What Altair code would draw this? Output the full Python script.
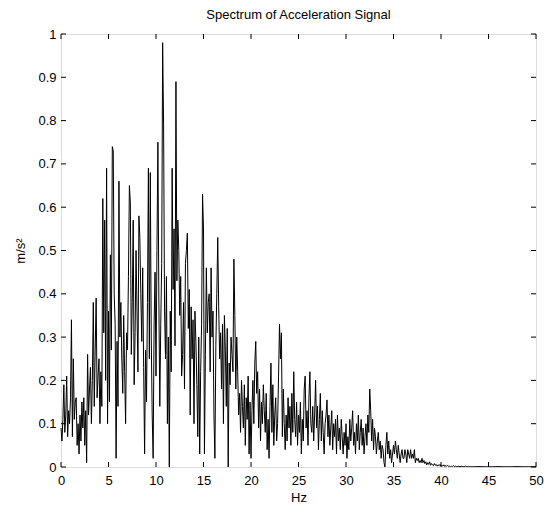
import altair as alt
import numpy as np
import pandas as pd

# Spectrum amplitude (m/s^2), one value every 0.1 Hz
a00 = [0.09, 0.06, 0.11, 0.19, 0.08, 0.12, 0.21, 0.07, 0.13, 0.10]
a01 = [0.16, 0.34, 0.07, 0.25, 0.11, 0.15, 0.16, 0.05, 0.10, 0.03]
a02 = [0.12, 0.06, 0.15, 0.09, 0.16, 0.05, 0.13, 0.01, 0.26, 0.12]
a03 = [0.18, 0.23, 0.10, 0.20, 0.38, 0.14, 0.27, 0.39, 0.16, 0.21]
a04 = [0.25, 0.10, 0.22, 0.14, 0.62, 0.31, 0.57, 0.20, 0.69, 0.10]
a05 = [0.36, 0.15, 0.49, 0.27, 0.74, 0.73, 0.40, 0.33, 0.02, 0.29]
a06 = [0.14, 0.66, 0.30, 0.38, 0.25, 0.17, 0.35, 0.22, 0.10, 0.31]
a07 = [0.27, 0.44, 0.65, 0.61, 0.26, 0.38, 0.57, 0.19, 0.31, 0.50]
a08 = [0.36, 0.22, 0.58, 0.53, 0.40, 0.29, 0.46, 0.23, 0.03, 0.27]
a09 = [0.15, 0.38, 0.69, 0.25, 0.68, 0.30, 0.12, 0.02, 0.33, 0.45]
a10 = [0.21, 0.50, 0.75, 0.39, 0.14, 0.33, 0.47, 0.98, 0.79, 0.36]
a11 = [0.25, 0.44, 0.10, 0.30, 0.00, 0.36, 0.22, 0.69, 0.41, 0.55]
a12 = [0.28, 0.89, 0.43, 0.57, 0.50, 0.35, 0.44, 0.21, 0.26, 0.38]
a13 = [0.18, 0.47, 0.50, 0.54, 0.32, 0.41, 0.12, 0.37, 0.25, 0.34]
a14 = [0.10, 0.36, 0.29, 0.19, 0.07, 0.30, 0.03, 0.22, 0.33, 0.63]
a15 = [0.55, 0.03, 0.26, 0.46, 0.31, 0.38, 0.40, 0.22, 0.46, 0.30]
a16 = [0.36, 0.12, 0.02, 0.28, 0.40, 0.53, 0.37, 0.25, 0.31, 0.18]
a17 = [0.33, 0.10, 0.35, 0.27, 0.14, 0.32, 0.00, 0.24, 0.19, 0.30]
a18 = [0.26, 0.22, 0.48, 0.35, 0.18, 0.30, 0.22, 0.12, 0.17, 0.08]
a19 = [0.20, 0.14, 0.09, 0.19, 0.05, 0.16, 0.11, 0.21, 0.03, 0.15]
a20 = [0.02, 0.13, 0.20, 0.10, 0.24, 0.29, 0.17, 0.22, 0.09, 0.18]
a21 = [0.06, 0.15, 0.10, 0.19, 0.13, 0.08, 0.17, 0.04, 0.11, 0.02]
a22 = [0.14, 0.24, 0.08, 0.19, 0.05, 0.12, 0.16, 0.06, 0.10, 0.21]
a23 = [0.33, 0.25, 0.31, 0.07, 0.18, 0.10, 0.04, 0.12, 0.06, 0.16]
a24 = [0.09, 0.14, 0.05, 0.17, 0.08, 0.22, 0.11, 0.07, 0.15, 0.05]
a25 = [0.12, 0.08, 0.15, 0.03, 0.11, 0.06, 0.18, 0.21, 0.09, 0.13]
a26 = [0.05, 0.16, 0.22, 0.10, 0.08, 0.14, 0.06, 0.12, 0.20, 0.09]
a27 = [0.14, 0.04, 0.11, 0.17, 0.06, 0.13, 0.08, 0.03, 0.10, 0.12]
a28 = [0.155, 0.07, 0.12, 0.05, 0.09, 0.13, 0.04, 0.10, 0.07, 0.11]
a29 = [0.03, 0.12, 0.06, 0.09, 0.04, 0.11, 0.07, 0.03, 0.08, 0.05]
a30 = [0.10, 0.02, 0.07, 0.04, 0.11, 0.06, 0.09, 0.13, 0.05, 0.08]
a31 = [0.03, 0.10, 0.06, 0.12, 0.04, 0.08, 0.11, 0.05, 0.09, 0.03]
a32 = [0.07, 0.10, 0.05, 0.12, 0.08, 0.18, 0.13, 0.06, 0.11, 0.04]
a33 = [0.09, 0.07, 0.03, 0.06, 0.08, 0.04, 0.06, 0.02, 0.05, 0.04]
a34 = [0.01, 0.00, 0.05, 0.08, 0.03, 0.06, 0.02, 0.04, 0.01, 0.03]
a35 = [0.05, 0.03, 0.06, 0.04, 0.02, 0.05, 0.03, 0.01, 0.03, 0.04]
a36 = [0.02, 0.02, 0.04, 0.03, 0.01, 0.04, 0.03, 0.02, 0.04, 0.02]
a37 = [0.03, 0.02, 0.04, 0.01, 0.02, 0.015, 0.02, 0.01, 0.015, 0.01]
a38 = [0.02, 0.01, 0.015, 0.008, 0.012, 0.005, 0.01, 0.006, 0.012, 0.004]
a39 = [0.008, 0.005, 0.003, 0.008, 0.004, 0.006, 0.002, 0.005, 0.003, 0.006]
a40 = [0.002, 0.004, 0.002, 0.005, 0.001, 0.003, 0.002, 0.004, 0.001, 0.002]
a41 = [0.001, 0.002, 0.001, 0.003, 0.001, 0.002, 0.001, 0.001, 0.002, 0.001]
a42 = [0.001, 0.001, 0.002, 0.001, 0.001, 0.001, 0.002, 0.001, 0.001, 0.001]
a43 = [0.001, 0.001, 0.001, 0.001, 0.001, 0.001, 0.001, 0.001, 0.001, 0.001]
a44 = [0.001, 0.001, 0.001, 0.001, 0.001, 0.001, 0.001, 0.001, 0.001, 0.001]
a45 = [0.001, 0.001, 0.001, 0.001, 0.001, 0.001, 0.001, 0.001, 0.001, 0.001]
a46 = [0.001, 0.001, 0.001, 0.001, 0.001, 0.001, 0.001, 0.001, 0.001, 0.001]
a47 = [0.001, 0.001, 0.001, 0.001, 0.001, 0.001, 0.001, 0.001, 0.001, 0.001]
a48 = [0.001, 0.001, 0.001, 0.001, 0.001, 0.001, 0.001, 0.001, 0.001, 0.001]
a49 = [0.001, 0.001, 0.001, 0.001, 0.001, 0.001, 0.001, 0.001, 0.001, 0.001]
a50 = [0.001]

amplitude = (a00 + a01 + a02 + a03 + a04 + a05 + a06 + a07 + a08 + a09 +
             a10 + a11 + a12 + a13 + a14 + a15 + a16 + a17 + a18 + a19 +
             a20 + a21 + a22 + a23 + a24 + a25 + a26 + a27 + a28 + a29 +
             a30 + a31 + a32 + a33 + a34 + a35 + a36 + a37 + a38 + a39 +
             a40 + a41 + a42 + a43 + a44 + a45 + a46 + a47 + a48 + a49 + a50)
freq = np.round(np.arange(len(amplitude)) * 0.1, 1)

x_ticks = [0, 5, 10, 15, 20, 25, 30, 35, 40, 45, 50]
y_ticks = [0, 0.1, 0.2, 0.3, 0.4, 0.5, 0.6, 0.7, 0.8, 0.9, 1]

df = pd.DataFrame({"Hz": freq, "amp": amplitude})
xt = pd.DataFrame({"Hz": x_ticks})
yt = pd.DataFrame({"amp": y_ticks})

W, H = 475, 433
FONT = "Liberation Sans"
xs = alt.Scale(domain=[0, 50], nice=False, zero=False)
ys = alt.Scale(domain=[0, 1], nice=False)

x_axis = alt.Axis(values=x_ticks, title="Hz", ticks=False, tickSize=0,
                  domain=False, grid=False, format="d", labelFlush=False,
                  labelPadding=7, titleX=W / 2, titleY=30,
                  titleBaseline="middle", titleAlign="center",
                  titleFontWeight="normal", labelFontSize=13, titleFontSize=13,
                  labelFont=FONT, titleFont=FONT,
                  labelColor="black", titleColor="black")
y_axis = alt.Axis(values=y_ticks, title="m/s²", ticks=False, tickSize=0,
                  domain=False, grid=False, format="~g", labelFlush=False,
                  labelPadding=5, titleX=-41, titleY=H / 2, titleAngle=270,
                  titleBaseline="middle", titleAlign="center",
                  titleFontWeight="normal", labelFontSize=13, titleFontSize=13,
                  labelFont=FONT, titleFont=FONT,
                  labelColor="black", titleColor="black")

line = alt.Chart(df).mark_line(color="black", strokeWidth=1).encode(
    x=alt.X("Hz:Q", scale=xs, axis=x_axis),
    y=alt.Y("amp:Q", scale=ys, axis=y_axis),
)

tick_b = alt.Chart(xt).mark_rule(color="black", strokeWidth=1).encode(
    x=alt.X("Hz:Q", scale=xs, axis=x_axis), y=alt.value(H), y2=alt.value(H - 5))
tick_t = alt.Chart(xt).mark_rule(color="black", strokeWidth=1).encode(
    x=alt.X("Hz:Q", scale=xs, axis=x_axis), y=alt.value(0), y2=alt.value(5))
tick_l = alt.Chart(yt).mark_rule(color="black", strokeWidth=1).encode(
    y=alt.Y("amp:Q", scale=ys, axis=y_axis), x=alt.value(0), x2=alt.value(5))
tick_r = alt.Chart(yt).mark_rule(color="black", strokeWidth=1).encode(
    y=alt.Y("amp:Q", scale=ys, axis=y_axis), x=alt.value(W - 5), x2=alt.value(W))

chart = alt.layer(line, tick_b, tick_t, tick_l, tick_r).properties(
    width=W, height=H,
    title=alt.TitleParams("Spectrum of Acceleration Signal", fontSize=13,
                          fontWeight="normal", font=FONT, color="black",
                          offset=6, anchor="middle"),
    autosize=alt.AutoSizeParams(type="none"),
    padding={"left": 53, "top": 26, "right": 9, "bottom": 37},
).configure_view(
    stroke="black", strokeWidth=1
).configure(background="white")

chart.save("out.html", embed_options={"renderer": "svg", "actions": False})
